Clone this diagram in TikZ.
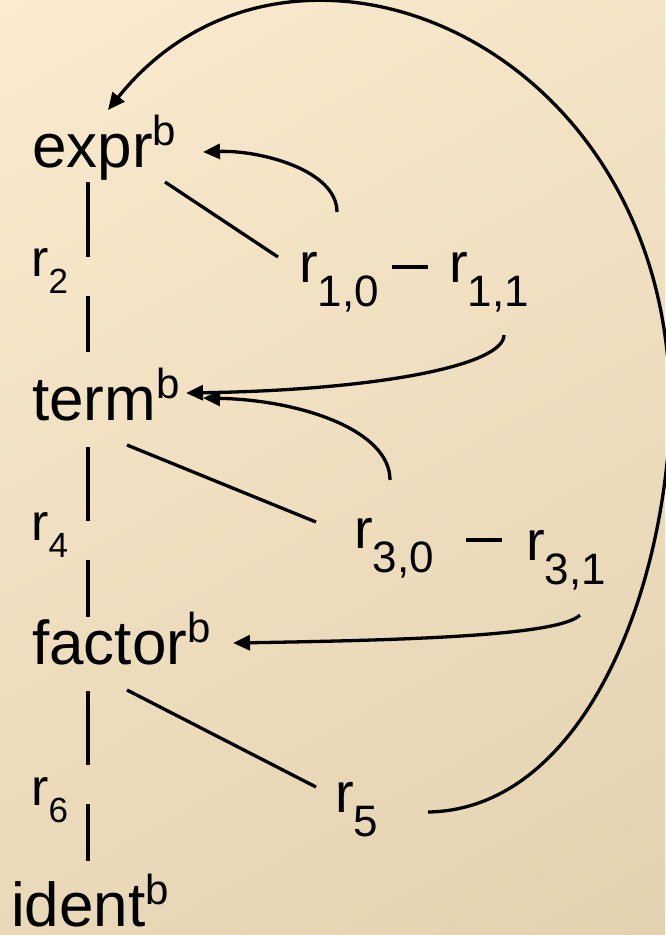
\documentclass[tikz,border=0pt]{standalone}
\usepackage{fontspec}
\setmainfont{Liberation Sans}
\usetikzlibrary{arrows.meta,calc,shadings}
\definecolor{bgtl}{HTML}{FBEBCF}
\definecolor{bgtr}{HTML}{F4E4C6}
\definecolor{bgbl}{HTML}{E9D9B8}
\definecolor{bgbr}{HTML}{E2D2B0}
\newcommand{\ntb}[1]{#1\raisebox{22pt}{\fontsize{42}{42}\selectfont b}}
\newcommand{\rbig}[1]{r\raisebox{-24pt}{\fontsize{44}{44}\selectfont #1}}
\newcommand{\rside}[1]{r\raisebox{-17pt}{\fontsize{35}{35}\selectfont #1}}

\begin{document}
\begin{tikzpicture}[x=1pt,y=-1pt,
  ntnode/.style={anchor=base west,inner sep=0pt,font=\fontsize{62}{70}\selectfont},
  rnode/.style={anchor=base west,inner sep=0pt,font=\fontsize{56}{64}\selectfont},
  rlabel/.style={anchor=base west,inner sep=0pt,font=\fontsize{52}{60}\selectfont},
  link/.style={line width=3.3pt},
  back/.style={line width=3.3pt,-{Triangle[length=17pt,width=15pt]}}]
  \useasboundingbox (0,0) rectangle (665,935);
  \shade[upper left=bgtl,upper right=bgtr,lower left=bgbl,lower right=bgbr] (0,0) rectangle (665,935);

  % nonterminals
  \node[ntnode] (expr) at (32,167) {\ntb{expr}};
  \node[ntnode] (term) at (32,420) {\ntb{term}};
  \node[ntnode] (factor) at (32,664) {\ntb{factor}};
  \node[ntnode] (ident) at (11,926) {\ntb{ident}};

  % rule labels
  \node[rlabel] (r2) at (31,276) {\rside{2}};
  \node[rlabel] (r4) at (31,540) {\rside{4}};
  \node[rlabel] (r6) at (31,805) {\rside{6}};
  \node[rnode] (r10) at (299,282) {\rbig{1,0}};
  \node[rnode] (r11) at (449,282) {\rbig{1,1}};
  \node[rnode] (r30) at (354,548) {\rbig{3,0}};
  \node[rnode] (r31) at (526,560) {\rbig{3,1}};
  \node[rnode] (r5) at (335,812) {\rbig{5}};

  % left spine
  \draw[link] ($(expr.base west)+(56,15)$) -- ($(r2.base west)+(57,-19)$);
  \draw[link] ($(r2.base west)+(57,20)$) -- ($(term.base west)+(56,-68)$);
  \draw[link] ($(term.base west)+(56,27)$) -- ($(r4.base west)+(57,-19)$);
  \draw[link] ($(r4.base west)+(57,20)$) -- ($(factor.base west)+(56,-47)$);
  \draw[link] ($(factor.base west)+(56,27)$) -- ($(r6.base west)+(57,-40)$);
  \draw[link] ($(r6.base west)+(57,-1)$) -- ($(ident.base west)+(77,-65)$);

  % diagonals and dashes
  \draw[link] ($(expr.base west)+(133,15)$) -- ($(r10.base west)+(-21,-25)$);
  \draw[link] ($(term.base west)+(95,25)$) -- ($(r30.base west)+(-38,-26)$);
  \draw[link] ($(factor.base west)+(95,26)$) -- ($(r5.base west)+(-19,-25)$);
  \draw[link] ($(r10.base west)+(93,-15)$) -- ($(r11.base west)+(-21,-15)$);
  \draw[link] ($(r30.base west)+(112,-8)$) -- ($(r31.base west)+(-24,-20)$);

  % back arrows
  \draw[back] ($(r10.base west)+(38,-70)$) .. controls +(0,-42) and +(57,-2) .. ($(expr.base west)+(171,-15)$);
  \draw[back] ($(r11.base west)+(55,53)$) .. controls +(0,30) and +(194,-3) .. ($(term.base west)+(154,-27)$);
  \draw[back] ($(r30.base west)+(36,-68)$) .. controls +(0,-50) and +(97,2) .. ($(term.base west)+(171,-22)$);
  \draw[back] ($(r31.base west)+(54,55)$) .. controls +(-20,20) and +(187,-3) .. ($(factor.base west)+(201,-21)$);
  \draw[back] ($(r5.base west)+(93,0)$) .. controls +(132,-2) and +(-22,170) .. ++(237,-332)
    .. controls +(55,-420) and +(192,-240) .. ($(expr.base west)+(76,-57)$);
\end{tikzpicture}
\end{document}
